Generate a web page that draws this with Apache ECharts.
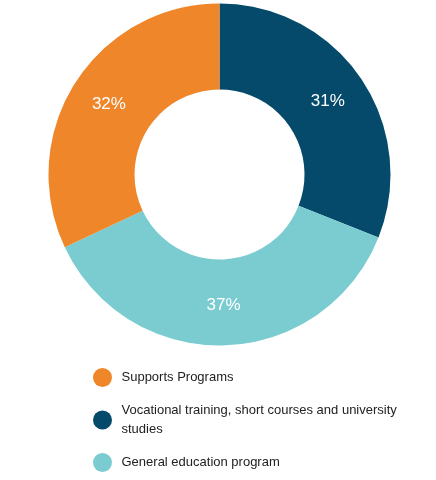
<!DOCTYPE html>
<html>
<head>
<meta charset="utf-8">
<script src="https://cdn.jsdelivr.net/npm/echarts@6/dist/echarts.min.js"></script>
<style>
  html, body { margin: 0; padding: 0; background: #fff; }
  #chart { width: 436px; height: 480px; }
</style>
</head>
<body>
<div id="chart"></div>
<script>
let categories = [
  'Vocational training, short courses and university studies',
  'General education program',
  'Supports Programs',
]
let shares = [31, 37, 32]
let legendOrder = [
  'Supports Programs',
  'Vocational training, short courses and university studies',
  'General education program',
]
let colorPalette = ['#054A6B', '#7ACCD0', '#EF8629']

let chart = echarts.init(document.getElementById('chart'))

chart.setOption({
  color: colorPalette,
  animation: false,
  legend: {
    data: legendOrder,
    orient: 'vertical',
    left: 93,
    top: 368,
    height: 112,
    padding: 0,
    icon: 'circle',
    itemWidth: 20,
    itemHeight: 19,
    itemGap: 14,
    textStyle: {
      fontFamily: 'Liberation Sans',
      fontSize: 13,
      color: '#222',
      width: 285,
      overflow: 'break',
      lineHeight: 19,
      padding: [0, 0, 0, 4]
    }
  },
  series: [
    {
      type: 'pie',
      center: [219.5, 174.5],
      radius: [85, 171],
      startAngle: 90,
      clockwise: true,
      silent: true,
      itemStyle: { borderWidth: 0 },
      label: {
        show: true,
        position: 'inside',
        formatter: '{c}%',
        color: '#fff',
        fontFamily: 'Liberation Sans',
        fontSize: 17
      },
      labelLine: { show: false },
      data: categories.map((name, i) => ({ name: name, value: shares[i] }))
    }
  ]
})
</script>
</body>
</html>
